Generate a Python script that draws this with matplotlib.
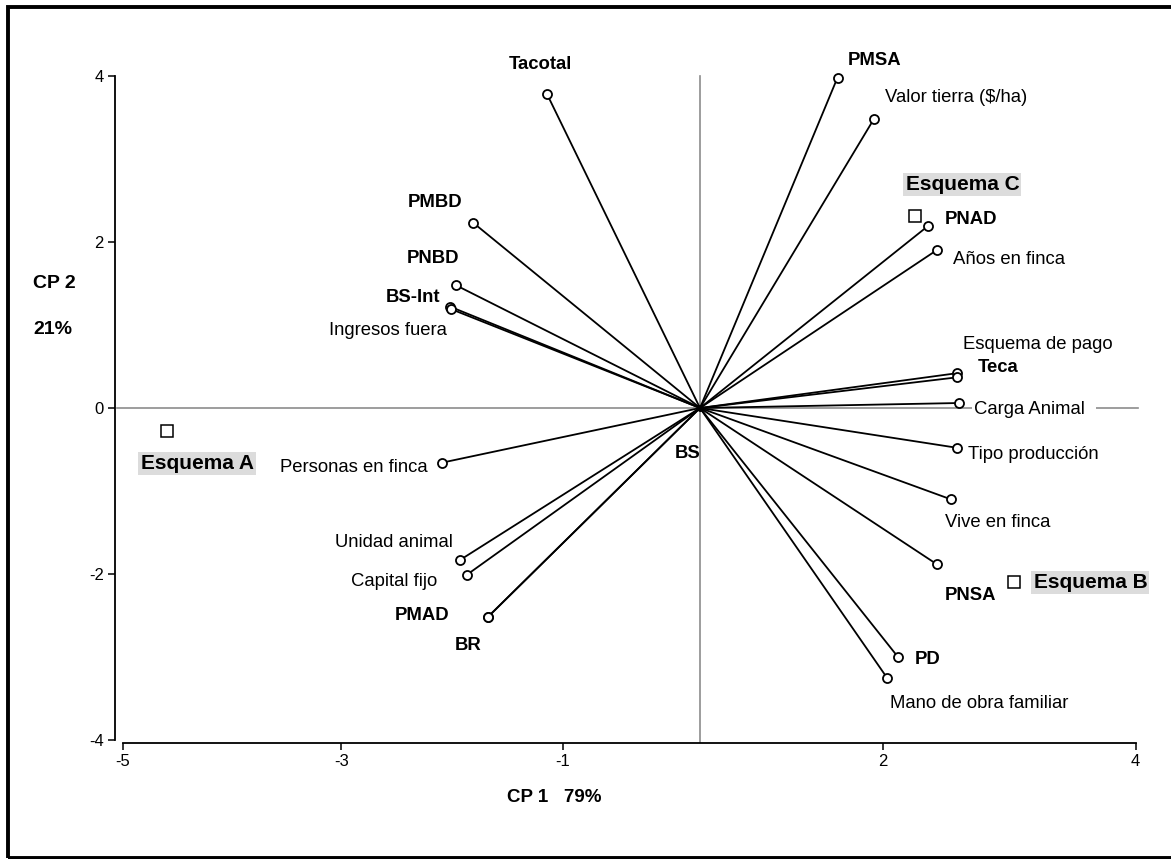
import matplotlib
matplotlib.use('Agg')
import matplotlib.pyplot as plt
from matplotlib.patches import Rectangle

plt.rcParams['font.family'] = ['Liberation Sans', 'DejaVu Sans']

# ---- data (biplot coordinates) ----
var_names = ['Tacotal', 'PMBD', 'PNBD', 'BS-Int', 'Ingresos fuera', 'PMSA',
             'Valor tierra ($/ha)', 'PNAD', 'Años en finca', 'Esquema de pago',
             'Teca', 'Carga Animal', 'Tipo producción', 'Vive en finca', 'PNSA',
             'PD', 'Mano de obra familiar', 'Personas en finca', 'Unidad animal',
             'Capital fijo', 'PMAD', 'BR', 'BS']
var_x = [-1.39, -2.06, -2.22, -2.27, -2.26, 1.25,
         1.58, 2.07, 2.15, 2.34,
         2.34, 2.35, 2.34, 2.28, 2.15,
         1.80, 1.70, -2.35, -2.18,
         -2.12, -1.93, -1.93, 0.0]
var_y = [3.78, 2.23, 1.48, 1.22, 1.19, 3.98,
         3.48, 2.19, 1.90, 0.42,
         0.37, 0.06, -0.48, -1.10, -1.88,
         -3.00, -3.25, -0.66, -1.83,
         -2.01, -2.52, -2.52, 0.0]
var_bold = [True, True, True, True, False, True,
            False, True, False, False,
            True, False, False, False, True,
            True, False, False, False,
            False, True, True, True]

scheme_names = ['Esquema A', 'Esquema B', 'Esquema C']
scheme_x = [-4.85, 2.85, 1.95]
scheme_y = [-0.28, -2.10, 2.31]

ytick_vals = [-4, -2, 0, 2, 4]
xtick_labels = ['-5', '-3', '-1', '2', '4']
xtick_vals = [-5.25, -3.26, -1.25, 1.66, 3.96]

# ---- label placement (offset in pixels, ha) ----
var_label_style = {
    'Tacotal': (-7, 30, 'center'),
    'PMBD': (-38, 20, 'center'),
    'PNBD': (-23, 27, 'center'),
    'BS-Int': (-37, 9, 'center'),
    'Ingresos fuera': (-63, -21, 'center'),
    'PMSA': (37, 17, 'center'),
    'Valor tierra ($/ha)': (11, 22, 'left'),
    'PNAD': (17, 7, 'left'),
    'Años en finca': (16, -9, 'left'),
    'Esquema de pago': (6, 29, 'left'),
    'Teca': (20, 10, 'left'),
    'Carga Animal': (15, -6, 'left'),
    'Tipo producción': (11, -7, 'left'),
    'Vive en finca': (-6, -23, 'left'),
    'PNSA': (8, -31, 'left'),
    'PD': (17, -2, 'left'),
    'Mano de obra familiar': (3, -26, 'left'),
    'Personas en finca': (-14, -5, 'right'),
    'Unidad animal': (-7, 17, 'right'),
    'Capital fijo': (-30, -7, 'right'),
    'PMAD': (-38, 2, 'right'),
    'BR': (-20, -28, 'center'),
    'BS': (-12, -45, 'center'),
}
scheme_label_style = {
    'Esquema A': (-26, -32, 'left'),
    'Esquema B': (20, 0, 'left'),
    'Esquema C': (-9, 32, 'left'),
}

W, H = 1171, 859
fig = plt.figure(figsize=(W / 100, H / 100), dpi=100)

# outer frame
fig.add_artist(Rectangle((8 / W, 1.5 / H), 1.2, (857.5 - 7) / H,
                         transform=fig.transFigure, fill=False,
                         lw=2.8, ec='black', clip_on=False))

ax = fig.add_axes([115 / W, (H - 743) / H, (1140 - 115) / W, (743 - 70) / H])
x0, x1 = (115 - 700) / 110, (1140 - 700) / 110
y0, y1 = (408 - 743) / 83, (408 - 70) / 83
ax.set_xlim(x0, x1)
ax.set_ylim(y0, y1)

for s in ['top', 'right']:
    ax.spines[s].set_visible(False)
ax.spines['left'].set_bounds(-4, 4)
ax.spines['bottom'].set_bounds(xtick_vals[0], xtick_vals[-1])
for s in ['left', 'bottom']:
    ax.spines[s].set_linewidth(1.3)

ax.set_yticks(ytick_vals)
ax.set_yticklabels([str(v) for v in ytick_vals])
ax.set_xticks(xtick_vals)
ax.set_xticklabels(xtick_labels)
ax.tick_params(direction='out', length=5, width=1.1, labelsize=12, pad=3)

# reference lines
ax.plot([x0 + 0.02, (1138 - 700) / 110], [0, 0], color='#8c8c8c', lw=1.2, zorder=1)
ax.plot([0, 0], [y0, 4.0], color='#8c8c8c', lw=1.2, zorder=1)

# vectors
for x, y in zip(var_x, var_y):
    ax.plot([0, x], [0, y], color='black', lw=1.3, zorder=2)
mx = [x for x, y in zip(var_x, var_y) if (x, y) != (0.0, 0.0)]
my = [y for x, y in zip(var_x, var_y) if (x, y) != (0.0, 0.0)]
ax.plot(mx, my, 'o', mfc='white', mec='black', ms=6.5, mew=1.3, zorder=3)
ax.plot([0], [0], 'o', color='black', ms=4, zorder=3)

for name, x, y, b in zip(var_names, var_x, var_y, var_bold):
    dx, dy, ha = var_label_style[name]
    kw = {}
    txt = name
    if name == 'Carga Animal':
        txt = name + '  '
        kw['bbox'] = dict(facecolor='white', edgecolor='none', pad=1)
    ax.annotate(txt, (x, y), xytext=(dx, dy), textcoords='offset pixels',
                ha=ha, va='center', fontsize=13.3,
                fontweight='bold' if b else 'normal', zorder=4, **kw)

# schemes
ax.plot(scheme_x, scheme_y, 's', mfc='white', mec='black', ms=9, mew=1.1, zorder=3)
for name, x, y in zip(scheme_names, scheme_x, scheme_y):
    dx, dy, ha = scheme_label_style[name]
    ax.annotate(name, (x, y), xytext=(dx, dy), textcoords='offset pixels',
                ha=ha, va='center', fontsize=15, fontweight='bold', zorder=4,
                bbox=dict(facecolor='#dcdcdc', edgecolor='none', pad=1.5))

# axis titles
fig.text(507 / W, 1 - 798 / H, 'CP 1   79%', fontsize=13.5, fontweight='bold',
         ha='left', va='center')
fig.text(33 / W, 1 - 283 / H, 'CP 2', fontsize=14, fontweight='bold',
         ha='left', va='center')
fig.text(33 / W, 1 - 330 / H, '21%', fontsize=14, fontweight='bold',
         ha='left', va='center')

fig.savefig('out.png', dpi=100)
